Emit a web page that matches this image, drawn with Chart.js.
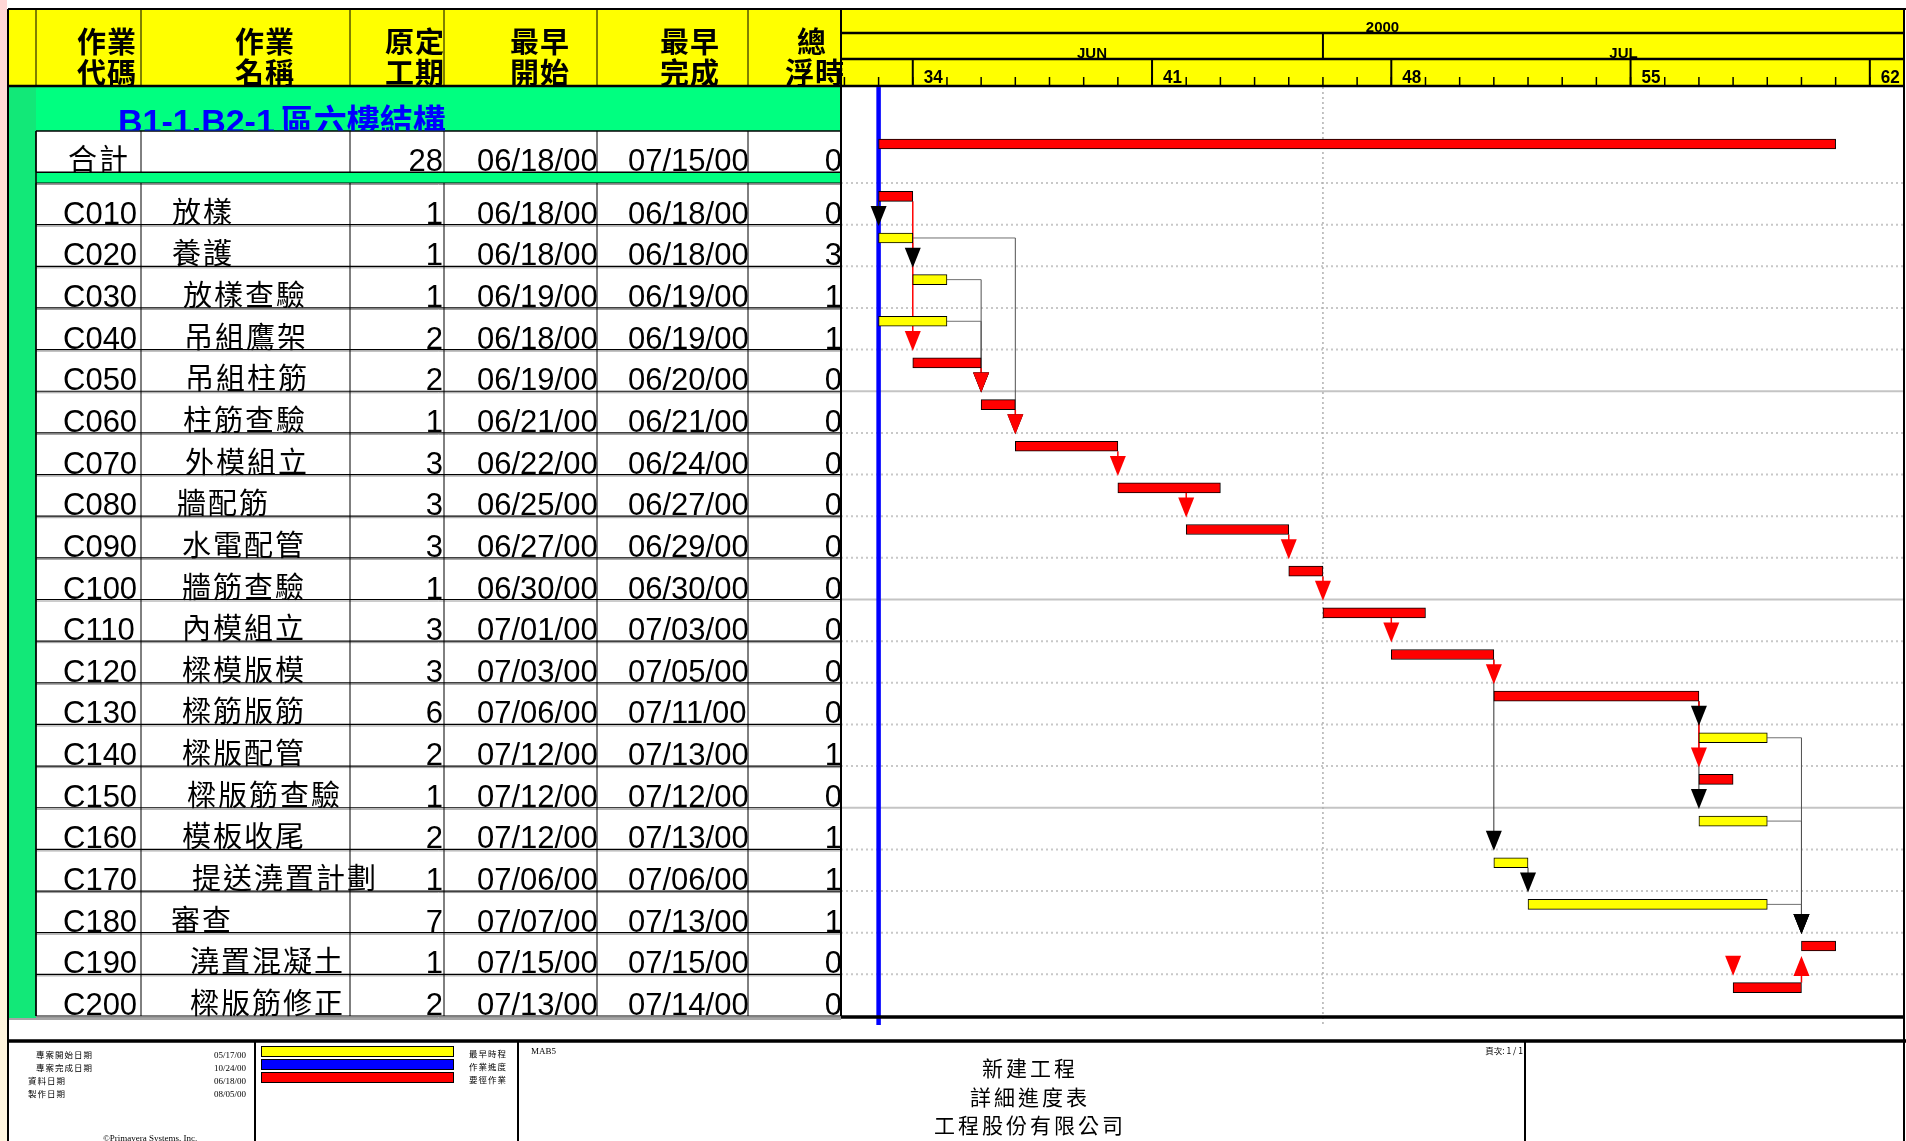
<!DOCTYPE html>
<html><head><meta charset="utf-8">
<script src="https://cdn.jsdelivr.net/npm/chart.js@4.4.1/dist/chart.umd.min.js"></script>
<style>
html,body{margin:0;padding:0;background:#fff;}
#wrap{position:relative;width:1906px;height:1141px;overflow:hidden;}
#c{position:absolute;left:0;top:0;}
#txt{position:absolute;left:0;top:0;}
</style></head><body>
<div id="wrap"><canvas id="c" width="1906" height="1141"></canvas><svg id="txt" width="1906" height="1141" xmlns="http://www.w3.org/2000/svg"></svg></div>
<script>
// ---------------- DATA ----------------
const codes = ['C010','C020','C030','C040','C050','C060','C070','C080','C090','C100','C110','C120','C130','C140','C150','C160','C170','C180','C190','C200'];
const names = ['放樣','養護','放樣查驗','吊組鷹架','吊組柱筋','柱筋查驗','外模組立','牆配筋','水電配管','牆筋查驗','內模組立','樑模版模','樑筋版筋','樑版配管','樑版筋查驗','模板收尾','提送澆置計劃','審查','澆置混凝土','樑版筋修正'];
const durations = [1,1,1,2,2,1,3,3,3,1,3,3,6,2,1,2,1,7,1,2];
const starts = ['06/18/00','06/18/00','06/19/00','06/18/00','06/19/00','06/21/00','06/22/00','06/25/00','06/27/00','06/30/00','07/01/00','07/03/00','07/06/00','07/12/00','07/12/00','07/12/00','07/06/00','07/07/00','07/15/00','07/13/00'];
const finishes = ['06/18/00','06/18/00','06/19/00','06/19/00','06/20/00','06/21/00','06/24/00','06/27/00','06/29/00','06/30/00','07/03/00','07/05/00','07/11/00','07/13/00','07/12/00','07/13/00','07/06/00','07/13/00','07/15/00','07/14/00'];
const floats = [0,3,1,1,0,0,0,0,0,0,0,0,0,1,0,1,1,1,0,0];
const groupTitle = 'B1-1.B2-1';
const groupTitleCJK = '區六樓結構';
const summaryLabel = '合計';
const summaryDuration = 28;
const summaryStart = '06/18/00';
const summaryFinish = '07/15/00';
const summaryFloat = 0;
const headerTop = ['作業','作業','原定','最早','最早','總'];
const headerBottom = ['代碼','名稱','工期','開始','完成','浮時'];
const yearLabel = '2000';
const monthLabels = ['JUN','JUL'];
const monthStarts = ['06/01/00','07/01/00'];
const weekLabels = ['34','41','48','55','62'];
const weekStarts = ['06/19/00','06/26/00','07/03/00','07/10/00','07/17/00'];
const dataDate = '06/18/00';
// relationships: [predecessor, successor, drawLine]
const links = [
  ['C010','C020',true],['C010','C050',true],['C020','C030',true],['C020','C070',true],
  ['C030','C060',true],['C040','C060',true],['C050','C060',true],['C060','C070',true],
  ['C070','C080',true],['C080','C090',true],['C090','C100',true],['C100','C110',true],
  ['C110','C120',true],['C120','C130',true],['C120','C170',true],['C170','C180',true],
  ['C130','C140',true],['C130','C150',true],['C130','C160',true],
  ['C140','C190',true],['C160','C190',true],['C180','C190',true],
  ['C200','C190',true],['C150','C200',false]
];
const footerLabels = ['專案開始日期','專案完成日期','資料日期','製作日期'];
const footerDates = ['05/17/00','10/24/00','06/18/00','08/05/00'];
const legendLabels = ['最早時程','作業進度','要徑作業'];
const titleLines = ['新建工程','詳細進度表','工程股份有限公司'];

// ---------------- LAYOUT / STYLE ----------------
const LATIN = "'Liberation Sans', Arial, sans-serif";
const CJK = "'Noto Sans CJK TC','Noto Sans CJK SC',sans-serif";
const SERIF = "'Liberation Serif','Noto Sans CJK TC',serif";
const RED='#ff0000', YEL='#ffff00', BLUE='#0000ff', GREEN='#00ff80', STRIP='#12e878';
const COLS = [36,141,350,444,597,748,841];
const nameX = [172,172,183,184,185,183,185,177,182,182,182,182,182,182,187,182,192,171,190,190];
const BAR_POS = 0.32, SUMMARY_POS = -0.936, SUMMARY_ROW = [-1.25,-0.26];
const BASE = Date.UTC(2000,5,18);
function dayOf(s){const p=s.split('/').map(Number);return (Date.UTC(2000+p[2],p[0]-1,p[1])-BASE)/86400000;}
const idx = {}; codes.forEach((c,i)=>idx[c]=i);

const barData = [{x:[dayOf(summaryStart),dayOf(summaryFinish)+1], y:SUMMARY_POS}]
  .concat(codes.map((c,i)=>({x:[dayOf(starts[i]),dayOf(finishes[i])+1], y:i+BAR_POS})));
const barColors = [summaryFloat===0?RED:YEL].concat(floats.map(f=>f===0?RED:YEL));

function line(ctx,x1,y1,x2,y2,w,c,dash){ctx.save();ctx.beginPath();ctx.lineWidth=w;ctx.strokeStyle=c;if(dash)ctx.setLineDash(dash);ctx.moveTo(x1,y1);ctx.lineTo(x2,y2);ctx.stroke();ctx.restore();}

const ganttPlugin = {
  id:'gantt',
  beforeDraw(chart){
    const ctx=chart.ctx, X=v=>chart.scales.x.getPixelForValue(v), Y=v=>chart.scales.y.getPixelForValue(v);
    const ca=chart.chartArea;
    ctx.save();
    ctx.fillStyle='#fff';ctx.fillRect(0,0,1906,1141);
    const g=ctx.createLinearGradient(0,0,0,1141);g.addColorStop(0,'#ffd6d6');g.addColorStop(0.5,'#fff0d0');g.addColorStop(1,'#fff6e0');
    ctx.fillStyle=g;ctx.fillRect(0,0,7,1141);
    // header
    ctx.fillStyle=YEL;ctx.fillRect(9,10,1895,76);
    // green areas
    ctx.fillStyle=GREEN;ctx.fillRect(9,87,COLS[6]-9,Y(0)-87);
    ctx.fillStyle=STRIP;ctx.fillRect(9,87,COLS[0]-9,Y(20)-87+2);
    // summary row
    const sTop=Y(SUMMARY_ROW[0]), sBot=Y(SUMMARY_ROW[1]);
    ctx.fillStyle='#fff';ctx.fillRect(COLS[0],sTop,COLS[6]-COLS[0],sBot-sTop);
    ctx.fillRect(COLS[0],Y(0),COLS[6]-COLS[0],Y(20)-Y(0));
    // table lines
    [sTop,sBot].forEach(y=>line(ctx,COLS[0],y,COLS[6],y,1.5,'#000'));
    for(let i=0;i<=20;i++){const y=Y(i);line(ctx,COLS[0],y,COLS[6],y,1.2,'#000');line(ctx,COLS[0],y+1.5,COLS[6],y+1.5,1,'#9a9a9a');}
    COLS.slice(0,6).forEach(x=>{line(ctx,x,Y(0),x,Y(20),1,'#000');line(ctx,x,sTop,x,sBot,1,'#000');line(ctx,x,10,x,86,1,'#000');});
    line(ctx,COLS[0],sTop,COLS[0],Y(20),1.5,'#000');
    line(ctx,9,Y(20)+3,COLS[6],Y(20)+3,1.5,'#888');
    // gantt grid
    for(let i=1;i<=19;i++){const y=Y(i);
      if(i%5===0) line(ctx,ca.left,y,ca.right,y,2,'#c4c4c4');
      else line(ctx,ca.left,y,ca.right,y,2,'#c8c8c8',[2,3]);}
    line(ctx,ca.left,Y(0),ca.right,Y(0),2,'#c8c8c8',[2,3]);
    const xm=X(dayOf(monthStarts[1]));
    line(ctx,xm,87,xm,Y(20)+9,1.5,'#b0b0b0',[2,3]);
    // gantt header lines
    line(ctx,ca.left,33,ca.right,33,2.5,'#000');
    line(ctx,ca.left,59,ca.right,59,2.5,'#000');
    line(ctx,xm,33,xm,59,2,'#000');
    for(let d=Math.ceil(chart.scales.x.min);d<=chart.scales.x.max;d++) line(ctx,X(d),77,X(d),86,1.5,'#000');
    weekStarts.forEach(w=>{const x=X(dayOf(w));line(ctx,x,59,x,86,2,'#000');});
    line(ctx,9,86,1904,86,2.5,'#000');
    // frame
    line(ctx,8,9,1906,9,2,'#000');
    line(ctx,8,9,8,1141,2,'#000');
    line(ctx,1904,9,1904,1141,2,'#000');
    line(ctx,COLS[6],9,COLS[6],Y(20),2,'#000');
    // data date
    const xd=X(dayOf(dataDate));
    line(ctx,xd,87,xd,Y(20)+9,4.5,BLUE);
    // bottom
    line(ctx,ca.left,Y(20)+1,ca.right,Y(20)+1,3.5,'#000');
    line(ctx,8,1041,1906,1041,3.5,'#000');
    [255,518,1525].forEach(x=>line(ctx,x,1041,x,1141,2,'#000'));
    [[YEL,1046],[BLUE,1059],[RED,1072]].forEach(([c,y])=>{ctx.fillStyle='#000';ctx.fillRect(261,y,193,11);ctx.fillStyle=c;ctx.fillRect(262,y+1,191,9);});
    // links (lines)
    const half=5;
    const drawLinks=(critical)=>{
      links.forEach(([a,b,draw])=>{
        const ia=idx[a], ib=idx[b];
        const crit=floats[ia]===0&&floats[ib]===0;
        if(crit!==critical||!draw) return;
        const xs=X(dayOf(starts[ib])), xe=X(dayOf(finishes[ia])+1);
        const ya=Y(ia+BAR_POS), yb=Y(ib+BAR_POS);
        const col=crit?RED:'#303030';
        if(ib>ia){
          const tip=yb-half-7;
          if(xs<=xe+0.5){line(ctx,xs,ya+half,xs,tip-4,crit?1.5:1,col);}
          else{line(ctx,xe,ya,xs,ya,1,'#707070');line(ctx,xs,ya,xs,tip-4,1,crit?RED:'#505050');}
        } else {
          const tip=yb+half+5;
          line(ctx,xs,ya-half,xs,tip+4,1.5,col);
        }
      });
    };
    drawLinks(false);drawLinks(true);
    ctx.restore();
  },
  afterDatasetsDraw(chart){
    const ctx=chart.ctx, X=v=>chart.scales.x.getPixelForValue(v), Y=v=>chart.scales.y.getPixelForValue(v);
    const half=5;
    const order=[false,true];
    order.forEach(critical=>links.forEach(([a,b])=>{
      const ia=idx[a], ib=idx[b];
      const crit=floats[ia]===0&&floats[ib]===0;
      if(crit!==critical) return;
      const xs=X(dayOf(starts[ib])), yb=Y(ib+BAR_POS);
      ctx.save();ctx.fillStyle=crit?RED:'#000';ctx.beginPath();
      if(ib>ia){const tip=yb-half-7;ctx.moveTo(xs,tip);ctx.lineTo(xs-8,tip-20);ctx.lineTo(xs+8,tip-20);}
      else{const tip=yb+half+5;ctx.moveTo(xs,tip);ctx.lineTo(xs-8,tip+20);ctx.lineTo(xs+8,tip+20);}
      ctx.closePath();ctx.fill();ctx.restore();
    }));
  }
};

const chart = new Chart(document.getElementById('c').getContext('2d'), {
  type:'bar',
  data:{datasets:[{data:barData,backgroundColor:barColors,borderColor:'#000',borderWidth:1,borderSkipped:false,barThickness:10}]},
  options:{
    indexAxis:'y',responsive:false,animation:false,devicePixelRatio:1,
    layout:{padding:{left:841,right:2,top:87,bottom:125}},
    scales:{
      x:{type:'linear',min:-1.1,max:30,display:false,offset:false,grace:0},
      y:{type:'linear',min:-2.305,max:20,reverse:true,display:false,offset:false,grace:0}
    },
    plugins:{legend:{display:false},tooltip:{enabled:false}}
  },
  plugins:[ganttPlugin]
});

// ---------------- TEXT (SVG) ----------------
const NS='http://www.w3.org/2000/svg';
const svg=document.getElementById('txt');
function T(x,y,s,o){o=o||{};
  const t=document.createElementNS(NS,'text');
  t.setAttribute('x',x);t.setAttribute('y',y);
  t.setAttribute('font-family',o.ff||LATIN);t.setAttribute('font-size',o.fs||31);
  if(o.fw)t.setAttribute('font-weight',o.fw);
  if(o.anchor)t.setAttribute('text-anchor',o.anchor);
  t.setAttribute('fill',o.fill||'#000');
  if(o.ls)t.setAttribute('letter-spacing',o.ls);
  if(o.tl){t.setAttribute('textLength',o.tl);t.setAttribute('lengthAdjust','spacingAndGlyphs');}
  if(o.clip)t.setAttribute('clip-path',o.clip);
  t.textContent=s;svg.appendChild(t);return t;}
const X=v=>chart.scales.x.getPixelForValue(v), Y=v=>chart.scales.y.getPixelForValue(v);
// clip for title
const defs=document.createElementNS(NS,'defs');
defs.innerHTML='<clipPath id="tclip"><rect x="0" y="0" width="1906" height="'+(Y(SUMMARY_ROW[0])-0.5)+'"/></clipPath>';
svg.appendChild(defs);
// table header
const hx=[107,265,415,540,690,812];
headerTop.forEach((s,i)=>T(hx[i],53,s,{ff:CJK,fs:29,fw:'bold',anchor:'middle',ls:1}));
headerBottom.forEach((s,i)=>T(hx[i]+(i===5?3:0),84,s,{ff:CJK,fs:29,fw:'bold',anchor:'middle',ls:1}));
// group title
const tt=T(118,133,'',{fs:34,fw:'bold',fill:BLUE,clip:'url(#tclip)'});
const s1=document.createElementNS(NS,'tspan');s1.textContent=groupTitle;tt.appendChild(s1);
const s2=document.createElementNS(NS,'tspan');s2.setAttribute('font-family',CJK);s2.setAttribute('font-size',33);s2.setAttribute('dx',6);s2.textContent=groupTitleCJK;tt.appendChild(s2);
// summary row
const sb=Y(SUMMARY_ROW[1])-1;
T(68,sb-1,summaryLabel,{ff:CJK,fs:29,ls:2});
T(443,sb,String(summaryDuration),{anchor:'end'});
T(477,sb,summaryStart);T(628,sb,summaryFinish);
T(842,sb,String(summaryFloat),{anchor:'end'});
// rows
codes.forEach((c,i)=>{
  const b=Y(i+1)-1;
  T(63,b,c);
  T(nameX[i],b-1,names[i],{ff:CJK,fs:29,ls:2});
  T(443,b,String(durations[i]),{anchor:'end'});
  T(477,b,starts[i]);T(628,b,finishes[i]);
  T(842,b,String(floats[i]),{anchor:'end'});
});
// gantt header
const ca=chart.chartArea;
T((ca.left+ca.right)/2+10,32,yearLabel,{fs:15,fw:'bold',anchor:'middle'});
monthStarts.forEach((m,i)=>{
  const a=Math.max(ca.left,X(dayOf(m)));
  const e=i+1<monthStarts.length?X(dayOf(monthStarts[i+1])):ca.right;
  T((a+e)/2+10,58,monthLabels[i],{fs:15,fw:'bold',anchor:'middle'});
});
weekStarts.forEach((w,i)=>T(X(dayOf(w))+11,83,weekLabels[i],{fs:19,fw:'bold',tl:19}));
// footer
const fb=[1058,1071,1084,1097], fx=[36,36,28,28];
footerLabels.forEach((s,i)=>T(fx[i],fb[i],s,{ff:CJK,fs:8.5,ls:1}));
footerDates.forEach((s,i)=>T(246,fb[i],s,{ff:SERIF,fs:9,anchor:'end'}));
legendLabels.forEach((s,i)=>T(469,fb[i]-1,s,{ff:CJK,fs:8.5,ls:1}));
T(103,1141,'©Primavera Systems, Inc.',{ff:SERIF,fs:9});
T(531,1054,'MAB5',{ff:SERIF,fs:9});
T(1523,1054,'頁次: 1 / 1',{ff:CJK,fs:8.5,anchor:'end'});
const tb=[1076,1105,1133];
titleLines.forEach((s,i)=>T(1030,tb[i],s,{ff:CJK,fs:21,anchor:'middle',ls:3}));
</script>
</body></html>
